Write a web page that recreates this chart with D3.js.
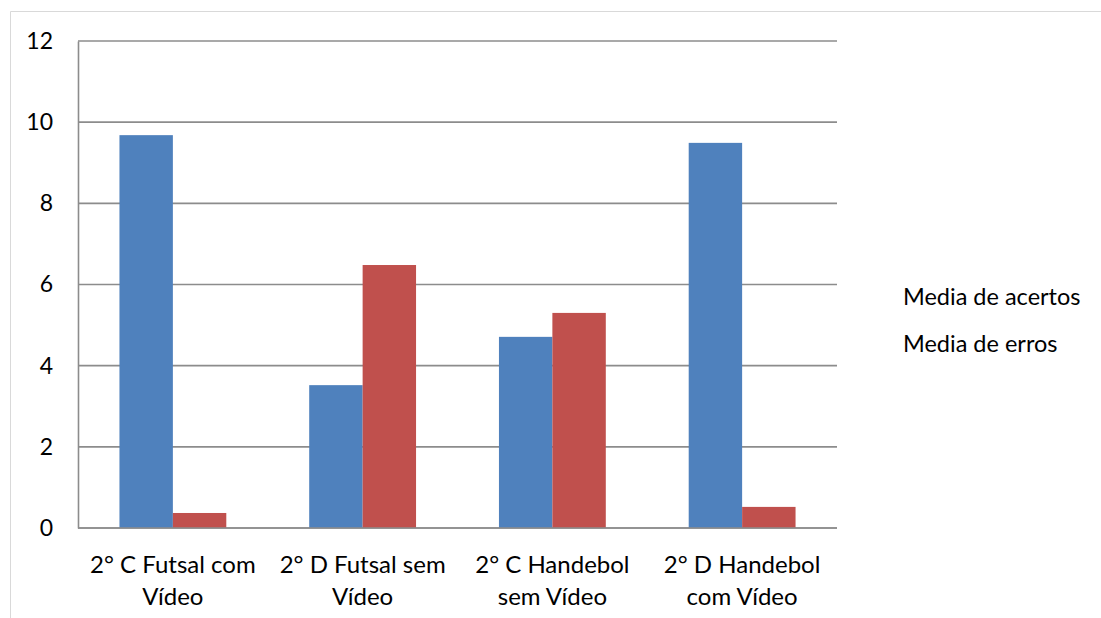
<!DOCTYPE html>
<html>
<head>
<meta charset="utf-8">
<script src="https://cdn.jsdelivr.net/npm/d3@7"></script>
<style>
  html, body { margin: 0; padding: 0; background: #ffffff; }
  svg { display: block; }
  text { font-family: Lato, "Open Sans", sans-serif; fill: #000; }
</style>
</head>
<body>
<svg id="chart" width="1101" height="618"></svg>
<script>
// Turmas e médias
const categories = [
  ["2° C Futsal com", "Vídeo"],
  ["2° D Futsal sem", "Vídeo"],
  ["2° C Handebol", "sem Vídeo"],
  ["2° D Handebol", "com Vídeo"]
];
const seriesNames = ["Media de acertos", "Media de erros"];
const acertos = [9.68, 3.52, 4.71, 9.49];
const erros = [0.37, 6.48, 5.30, 0.52];
const yTicks = [0, 2, 4, 6, 8, 10, 12];
const colors = ["#4F81BD", "#C0504D"];

const svg = d3.select("#chart");
const margin = { left: 78, right: 264, top: 41, bottom: 90 };
const W = 1101, H = 618;
const plotW = W - margin.left - margin.right;
const plotH = H - margin.top - margin.bottom;

// outer frame
svg.append("path")
  .attr("d", `M10.5,${H} V11.5 H${W}`)
  .attr("fill", "none")
  .attr("stroke", "#d9d9d9")
  .attr("stroke-width", 1);

const g = svg.append("g").attr("transform", `translate(${margin.left},${margin.top})`);

const x0 = d3.scaleBand().domain(d3.range(categories.length)).range([0, plotW]).padding(0);
const x1 = d3.scaleBand().domain(d3.range(seriesNames.length)).range([0, x0.bandwidth()])
  .paddingInner(0).paddingOuter(0.776);
const y = d3.scaleLinear().domain([0, 12]).range([plotH, 0]);

// grid lines
g.append("g").selectAll("line").data(yTicks).join("line")
  .attr("x1", 0).attr("x2", plotW)
  .attr("y1", d => y(d)).attr("y2", d => y(d))
  .attr("stroke", "#8c8c8c").attr("stroke-width", 1.6);

// y axis
const yAxis = g.append("g").call(d3.axisLeft(y).tickValues(yTicks).tickSize(0).tickPadding(25));
yAxis.select(".domain").attr("stroke", "#8c8c8c").attr("stroke-width", 1.6);
yAxis.selectAll("text").attr("font-size", 23).attr("font-family", "Lato, 'Open Sans', sans-serif").attr("fill", "#000");

// bars
const data = categories.map((c, i) => [acertos[i], erros[i]]);
const groups = g.append("g").selectAll("g").data(data).join("g")
  .attr("transform", (d, i) => `translate(${x0(i)},0)`);
groups.selectAll("rect").data(d => d.map((v, s) => ({ v, s }))).join("rect")
  .attr("x", d => x1(d.s))
  .attr("width", x1.bandwidth())
  .attr("y", d => y(d.v))
  .attr("height", d => plotH - y(d.v))
  .attr("fill", d => colors[d.s]);

// x axis line
g.append("line").attr("x1", 0).attr("x2", plotW).attr("y1", plotH).attr("y2", plotH)
  .attr("stroke", "#8c8c8c").attr("stroke-width", 1.6);

// category labels
const xl = g.append("g").selectAll("text").data(categories).join("text")
  .attr("text-anchor", "middle")
  .attr("font-size", 24)
  .attr("transform", (d, i) => `translate(${x0(i) + x0.bandwidth() / 2},${plotH + 45})`);
xl.selectAll("tspan").data(d => d).join("tspan")
  .attr("x", 0).attr("dy", (d, j) => j === 0 ? 0 : 32).text(d => d);

// legend (text only)
svg.append("g").selectAll("text").data(seriesNames).join("text")
  .attr("x", 903).attr("y", (d, i) => 305 + i * 47)
  .attr("font-size", 23.5)
  .text(d => d);
</script>
</body>
</html>
